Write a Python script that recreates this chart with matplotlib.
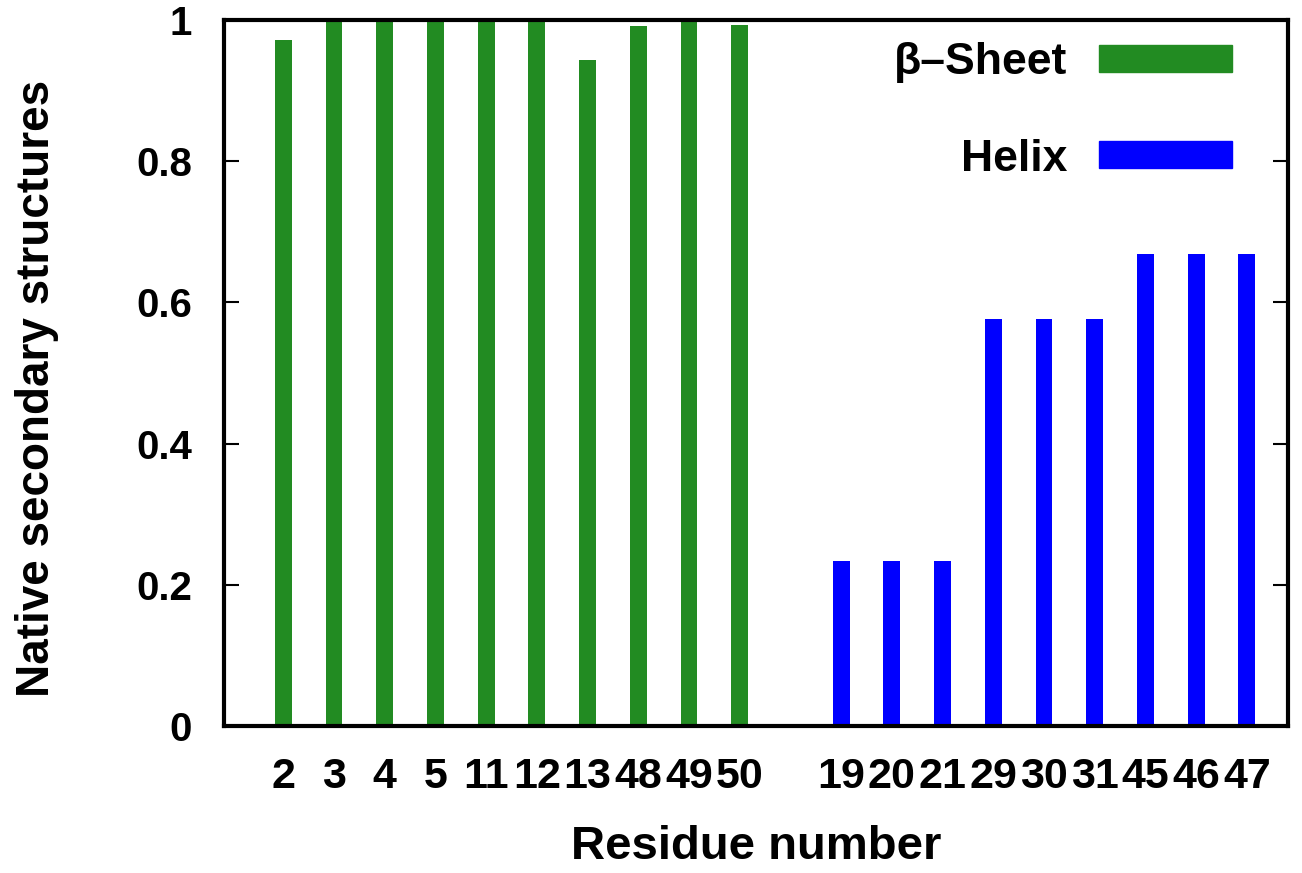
import numpy as np
import matplotlib
matplotlib.use("Agg")
import matplotlib.pyplot as plt
from matplotlib.patches import Patch

# residues and fractions of native secondary structure
sheet_res = ["2", "3", "4", "5", "11", "12", "13", "48", "49", "50"]
sheet_val = [0.972, 1.0, 1.0, 1.0, 1.0, 1.0, 0.943, 0.991, 1.0, 0.993]
helix_res = ["19", "20", "21", "29", "30", "31", "45", "46", "47"]
helix_val = [0.233, 0.233, 0.233, 0.577, 0.577, 0.577, 0.668, 0.668, 0.668]

plt.rcParams['font.family'] = ['Liberation Sans', 'DejaVu Sans']
plt.rcParams['font.weight'] = 'bold'

fig = plt.figure(figsize=(13.02, 8.73), dpi=100)
ax = fig.add_axes([0.172, 0.1684, 0.8172, 0.8087])

x_sheet = np.arange(len(sheet_res))
x_helix = np.arange(len(helix_res)) + len(sheet_res) + 1  # one empty slot between groups

w = 0.33
ax.bar(x_sheet, sheet_val, width=w, color="#228B22", label="β–Sheet")
ax.bar(x_helix, helix_val, width=w, color="#0000FF", label="Helix")

ax.set_xlim(-1.17, 19.81)
ax.set_ylim(0, 1)

ax.set_xticks(np.concatenate([x_sheet, x_helix]))
ax.set_xticklabels(sheet_res + helix_res)
yt = [0, 0.2, 0.4, 0.6, 0.8, 1]
ax.set_yticks(yt)
ax.set_yticklabels(["0", "0.2", "0.4", "0.6", "0.8", "1"])

ax.tick_params(axis="x", length=0, pad=22, labelsize=31)
ax.tick_params(axis="y", direction="in", length=11, width=1.5, pad=23,
               labelsize=29, right=True)
for s in ax.spines.values():
    s.set_linewidth(3)

ax.set_xlabel("Residue number", fontsize=34, fontweight="bold")
ax.set_ylabel("Native secondary structures", fontsize=33, fontweight="bold")
ax.xaxis.set_label_coords(0.5, -0.14)
ax.yaxis.set_label_coords(-0.155, 0.478)

handles = [Patch(color="#228B22"), Patch(color="#0000FF")]
ax.legend(handles, ["β–Sheet", "Helix"], loc="upper right",
          bbox_to_anchor=((1232 - 224) / 1064, 1 - (42 - 20) / 706),
          frameon=False, markerfirst=False, fontsize=32,
          handlelength=3.0, handleheight=0.55, handletextpad=0.7,
          labelspacing=1.25, borderpad=0, borderaxespad=0)

fig.savefig("out.png", dpi=100)
